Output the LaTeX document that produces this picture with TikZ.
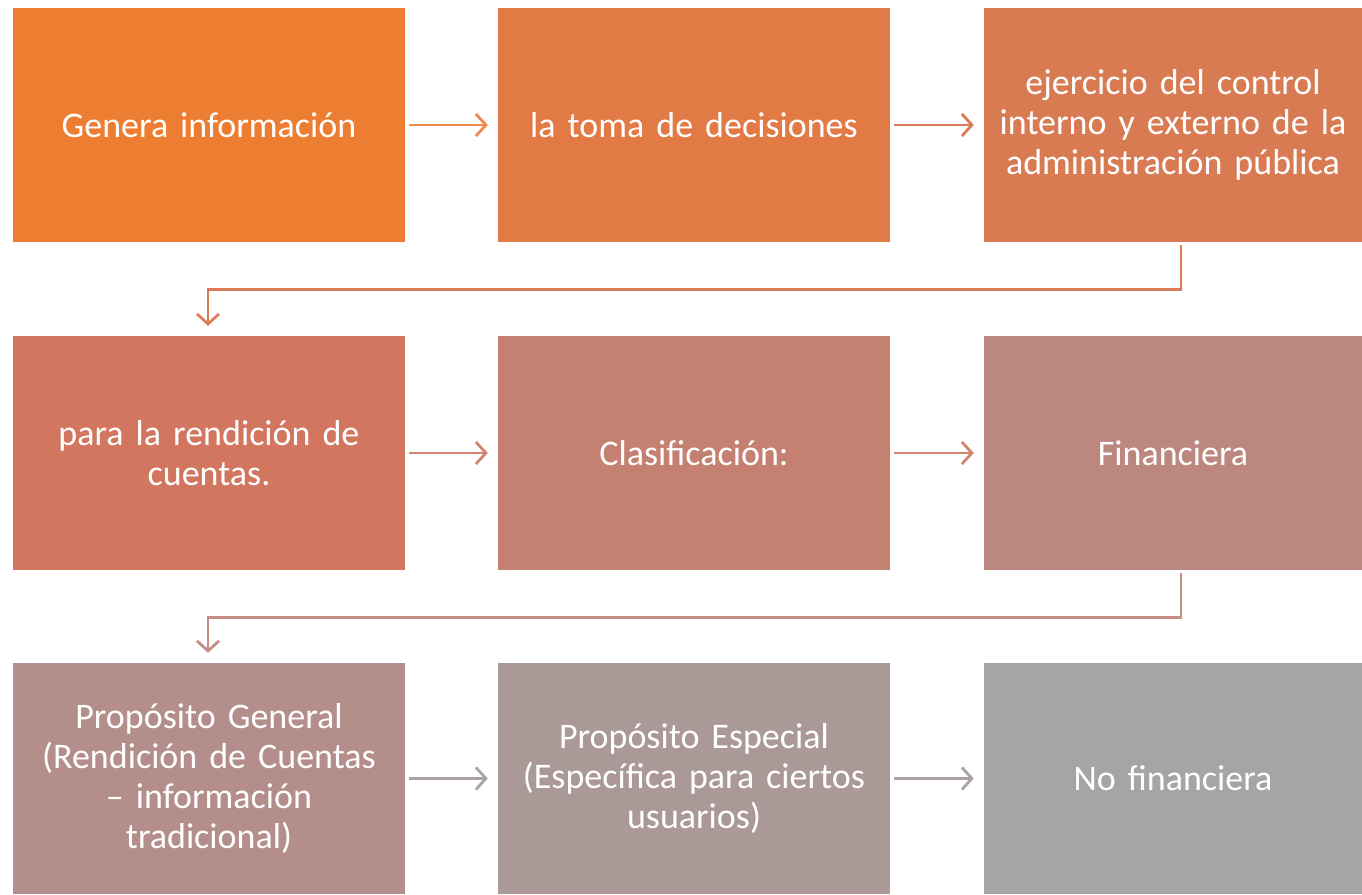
\documentclass[tikz,border=0pt]{standalone}
\usepackage{fontspec}
\setmainfont{Carlito}
\usetikzlibrary{arrows.meta}
\definecolor{c1}{HTML}{ED7D31}
\definecolor{c2}{HTML}{E27A45}
\definecolor{c3}{HTML}{D87A52}
\definecolor{c4}{HTML}{D27660}
\definecolor{c5}{HTML}{C48070}
\definecolor{c6}{HTML}{BC877E}
\definecolor{c7}{HTML}{B48E8B}
\definecolor{c8}{HTML}{AB9998}
\definecolor{c9}{HTML}{A5A5A5}
\definecolor{a1}{HTML}{EE8A4E}
\definecolor{a2}{HTML}{DC7C56}
\definecolor{a3}{HTML}{D28470}
\definecolor{a4}{HTML}{C68C88}
\definecolor{a5}{HTML}{ABA3A3}
\tikzset{
  box/.style={draw=none, text=white, align=center, text width=370pt, inner sep=0pt,
    font=\fontsize{36}{40}\selectfont, minimum height=234pt},
  arr/.style={line width=2.8pt, -{Straight Barb[length=10pt,width=22pt]}},
}
\begin{document}
\begin{tikzpicture}[x=1pt,y=-1pt]
\useasboundingbox (0,0) rectangle (1362,894);
\node[box, fill=c1, minimum width=392pt] (b1) at (209,125) {Genera información};
\node[box, fill=c2, minimum width=392pt] (b2) at (694,125) {la toma de decisiones};
\node[box, fill=c3, minimum width=378pt] (b3) at (1173,125) {ejercicio del control\\interno y externo de la\\administración pública};
\node[box, fill=c4, minimum width=392pt] (b4) at (209,453) {para la rendición de\\cuentas.};
\node[box, fill=c5, minimum width=392pt] (b5) at (694,453) {Clasificación:};
\node[box, fill=c6, minimum width=378pt] (b6) at (1173,453) {Financiera};
\node[box, fill=c7, minimum width=392pt, minimum height=231pt] (b7) at (209,778.5) {Propósito General\\(Rendición de Cuentas\\– información\\tradicional)};
\node[box, fill=c8, minimum width=392pt, minimum height=231pt] (b8) at (694,778.5) {Propósito Especial\\(Específica para ciertos\\usuarios)};
\node[box, fill=c9, minimum width=378pt, minimum height=231pt] (b9) at (1173,778.5) {No financiera};
\draw[arr, a1] ([xshift=4pt]b1.east) -- ([xshift=-10pt]b2.west);
\draw[arr, a2] ([xshift=4pt]b2.east) -- ([xshift=-10pt]b3.west);
\draw[arr, a3] ([xshift=4pt]b4.east) -- ([xshift=-10pt]b5.west);
\draw[arr, a3] ([xshift=4pt]b5.east) -- ([xshift=-10pt]b6.west);
\draw[arr, a5] ([xshift=4pt]b7.east) -- ([xshift=-10pt]b8.west);
\draw[arr, a5] ([xshift=4pt]b8.east) -- ([xshift=-10pt]b9.west);
\draw[arr, a2] ([xshift=8pt,yshift=-3pt]b3.south) -- ++(0,44) -| ([xshift=-1pt,yshift=10pt]b4.north);
\draw[arr, a4] ([xshift=8pt,yshift=-3pt]b6.south) -- ++(0,44) -| ([xshift=-1pt,yshift=10pt]b7.north);
\end{tikzpicture}
\end{document}
